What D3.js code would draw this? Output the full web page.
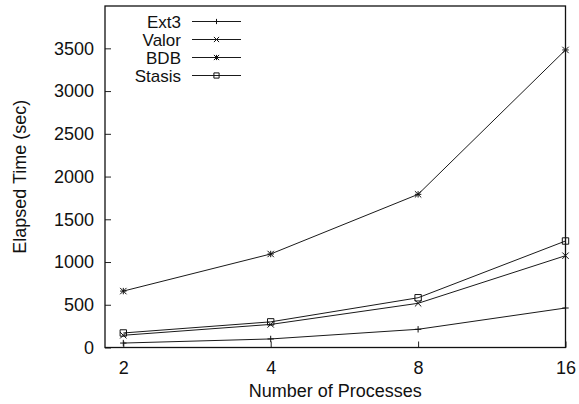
<!DOCTYPE html>
<html><head><meta charset="utf-8">
<script src="https://cdn.jsdelivr.net/npm/d3@7"></script>
<style>body{margin:0;background:#fff}svg{display:block}text{font-family:"Liberation Sans",Arial,Helvetica,sans-serif;fill:#111}</style>
</head><body>
<svg id="c" width="579" height="404"></svg>
<script>
const procs = [2, 4, 8, 16];
const seriesNames = ["Ext3", "Valor", "BDB", "Stasis"];
const ext3 = [52, 100, 213, 462];
const valor = [143, 270, 517, 1074];
const bdb = [660, 1094, 1792, 3481];
const stasis = [170, 300, 582, 1246];
const markers = ["plus", "cross", "star", "square"];
const yTicks = [0, 500, 1000, 1500, 2000, 2500, 3000, 3500];
const xTicks = [2, 4, 8, 16];
const xLabel = "Number of Processes";
const yLabel = "Elapsed Time (sec)";

const data = [ext3, valor, bdb, stasis];
const svg = d3.select("#c");
const L = 105, R = 565.5, T = 6, B = 347.5;
const x = d3.scaleLog().base(2).domain([2, 16]).range([123.3, 565.5]);
const y = d3.scaleLinear().domain([0, 4000]).range([B, 5.6]);
const fs = 18;

const yAx = svg.append("g").attr("transform", `translate(${L},0)`)
  .call(d3.axisLeft(y).tickValues(yTicks).tickSizeInner(-6).tickSizeOuter(0).tickPadding(11).tickFormat(d3.format("d")));
yAx.select(".domain").remove();
yAx.selectAll("text").attr("font-size", fs).style("font-family", '"Liberation Sans",Arial,sans-serif').attr("fill", "#111");
yAx.selectAll("line").attr("stroke", "#222");

const xAx = svg.append("g").attr("transform", `translate(0,${B})`)
  .call(d3.axisBottom(x).tickValues(xTicks).tickSizeInner(-6).tickSizeOuter(0).tickPadding(14).tickFormat(d3.format("d")));
xAx.select(".domain").remove();
xAx.selectAll("text").attr("font-size", fs).style("font-family", '"Liberation Sans",Arial,sans-serif').attr("fill", "#111");
xAx.selectAll("line").attr("stroke", "#222");

svg.append("rect").attr("x", L).attr("y", T).attr("width", R - L).attr("height", B - T)
  .attr("fill", "none").attr("stroke", "#111").attr("stroke-width", 1.3);

svg.append("text").attr("x", (L + R) / 2).attr("y", 397).attr("text-anchor", "middle").attr("font-size", fs).text(xLabel);
svg.append("text").attr("transform", `translate(26,${(T + B) / 2}) rotate(-90)`).attr("text-anchor", "middle").attr("font-size", fs).text(yLabel);

function drawMarker(g, type, cx, cy, s) {
  const p = g.append("path").attr("fill", "none").attr("stroke", "#111").attr("stroke-width", 1);
  let d = "";
  if (type === "plus") d = `M${cx - s},${cy}H${cx + s}M${cx},${cy - s}V${cy + s}`;
  else if (type === "cross") d = `M${cx - s},${cy - s}L${cx + s},${cy + s}M${cx - s},${cy + s}L${cx + s},${cy - s}`;
  else if (type === "star") d = `M${cx - s},${cy}H${cx + s}M${cx},${cy - s}V${cy + s}M${cx - s},${cy - s}L${cx + s},${cy + s}M${cx - s},${cy + s}L${cx + s},${cy - s}`;
  else if (type === "square") d = `M${cx - s},${cy - s}h${2 * s}v${2 * s}h${-2 * s}Z`;
  p.attr("d", d);
}

const line = d3.line().x((d, i) => x(procs[i])).y(d => y(d));
data.forEach((vals, si) => {
  const g = svg.append("g");
  g.append("path").datum(vals).attr("d", line).attr("fill", "none").attr("stroke", "#1a1a1a").attr("stroke-width", 1);
  vals.forEach((v, i) => drawMarker(g, markers[si], x(procs[i]), y(v), 3.2));
});

seriesNames.forEach((n, i) => {
  const ly = 21.5 + i * 18;
  svg.append("text").attr("x", 181).attr("y", ly + 6).attr("text-anchor", "end").attr("font-size", 17).text(n);
  svg.append("line").attr("x1", 192).attr("x2", 241).attr("y1", ly).attr("y2", ly).attr("stroke", "#1a1a1a").attr("stroke-width", 1);
  drawMarker(svg, markers[i], 216.5, ly, 2.6);
});
</script>
</body></html>
